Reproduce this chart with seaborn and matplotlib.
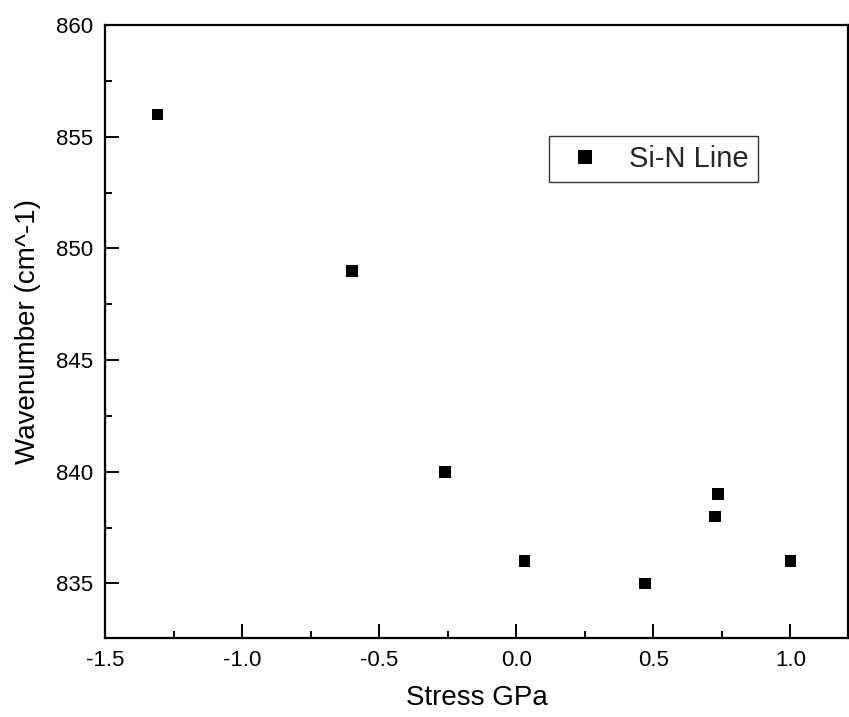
import matplotlib
matplotlib.use("Agg")
import matplotlib.pyplot as plt
import seaborn as sns
import pandas as pd
from matplotlib.ticker import MultipleLocator

stress = [-1.31, -0.60, -0.26, 0.03, 0.47, 0.725, 0.735, 1.0]
wavenumber = [856, 849, 840, 836, 835, 838, 839, 836]
series_name = "Si-N Line"
xtick_vals = [-1.5, -1.0, -0.5, 0.0, 0.5, 1.0]
xtick_labels = ["-1.5", "-1.0", "-0.5", "0.0", "0.5", "1.0"]

df = pd.DataFrame({"Stress GPa": stress, "Wavenumber (cm^-1)": wavenumber,
                   "series": [series_name] * len(stress)})

sns.set_theme(style="white")
plt.rcParams['font.family'] = ['Liberation Sans', 'DejaVu Sans']

fig = plt.figure(figsize=(8.49, 7.17), dpi=100)
ax = fig.add_axes([0.124, 0.1106, 0.8748, 0.8545])

sns.scatterplot(data=df, x="Stress GPa", y="Wavenumber (cm^-1)", hue="series",
                palette=["black"], marker="s", s=70, linewidth=0, ax=ax)

ax.set_xlim(-1.5, 1.21)
ax.set_ylim(832.57, 860)
ax.set_xticks(xtick_vals)
ax.set_xticklabels(xtick_labels)
ax.xaxis.set_minor_locator(MultipleLocator(0.25))
ax.yaxis.set_major_locator(MultipleLocator(5))
ax.yaxis.set_minor_locator(MultipleLocator(2.5))

for s in ax.spines.values():
    s.set_color("black")
    s.set_linewidth(1.6)

ax.tick_params(which="both", direction="in", bottom=True, left=True, top=False, right=False,
               colors="black", labelsize=16, width=1.4)
ax.tick_params(which="major", length=10, pad=9)
ax.tick_params(which="minor", length=5)

ax.set_xlabel("Stress GPa", fontsize=20, color="black", labelpad=10)
ax.set_ylabel("Wavenumber (cm^-1)", fontsize=20, color="black")
ax.yaxis.set_label_coords(-0.086, 0.5)

leg = ax.legend(loc="upper left", bbox_to_anchor=(0.5974, 0.8188), borderaxespad=0,
                frameon=True, fontsize=21, markerscale=1.15, handlelength=1.9,
                handletextpad=0.55, borderpad=0.3, fancybox=False, title=None)
leg.get_frame().set_edgecolor("black")
leg.get_frame().set_linewidth(1.0)

fig.savefig("out.png", dpi=100)
